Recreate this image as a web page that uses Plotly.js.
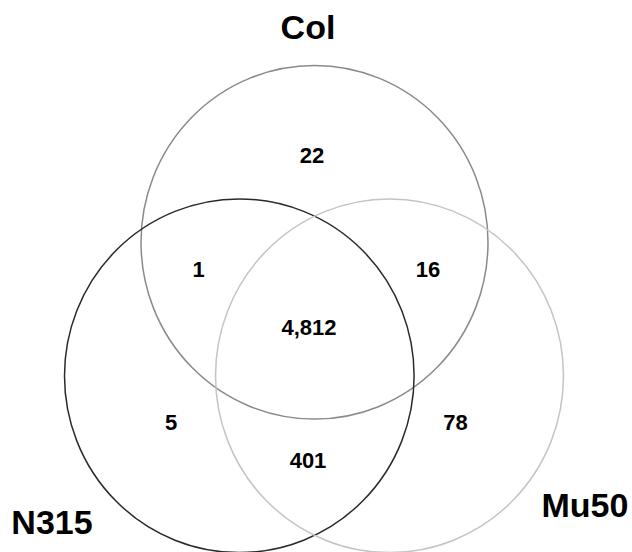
<!DOCTYPE html>
<html>
<head>
<meta charset="utf-8">
<script src="https://cdn.plot.ly/plotly-3.0.1.min.js"></script>
<style>html,body{margin:0;padding:0;background:#fff;}#chart{width:632px;height:552px;}</style>
</head>
<body>
<div id="chart"></div>
<script>
// Data
const setNames = ["Col", "N315", "Mu50"];
const regionNames = ["Col only", "Col∩N315", "Col∩Mu50", "Col∩N315∩Mu50", "N315 only", "Mu50 only", "N315∩Mu50"];
const regionCounts = [22, 1, 16, 4812, 5, 78, 401];

// Layout (pixel-space geometry)
const circleGeom = {
  "Col":  {cx: 314.5, cy: 242.3, rx: 173.5, ry: 176.8, color: "#8a8a8a"},
  "N315": {cx: 239.3, cy: 375.8, rx: 174.8, ry: 176.8, color: "#2a2a2a"},
  "Mu50": {cx: 389.5, cy: 375.8, rx: 174.0, ry: 176.8, color: "#c4c4c4"}
};
const regionPos = [[312,157],[198.5,271],[428,271],[309,329],[171,424],[455.5,424],[308,462]];
const labelPos = {"Col": [308,30], "N315": [52,525], "Mu50": [585,508]};

const fmt = n => n.toLocaleString("en-US");

const countTrace = {
  type: "scatter", mode: "text",
  x: regionPos.map(p => p[0]), y: regionPos.map(p => p[1]),
  text: regionCounts.map(fmt),
  hovertext: regionNames,
  textposition: "middle center",
  textfont: {family: "Liberation Sans, Arial, sans-serif", size: 22, color: "#000", weight: "bold"},
  showlegend: false
};
const labelTrace = {
  type: "scatter", mode: "text",
  x: setNames.map(s => labelPos[s][0]), y: setNames.map(s => labelPos[s][1]),
  text: setNames,
  textposition: "middle center",
  textfont: {family: "Liberation Sans, Arial, sans-serif", size: 34, color: "#000", weight: "bold"},
  showlegend: false
};

const shapes = setNames.map(s => {
  const g = circleGeom[s];
  return {type: "circle", xref: "x", yref: "y",
    x0: g.cx - g.rx, x1: g.cx + g.rx, y0: g.cy - g.ry, y1: g.cy + g.ry,
    line: {color: g.color, width: 1.5}, fillcolor: "rgba(0,0,0,0)", layer: "below"};
});

const layout = {
  width: 632, height: 552,
  margin: {l: 0, r: 0, t: 0, b: 0},
  paper_bgcolor: "#fff", plot_bgcolor: "#fff",
  xaxis: {range: [0, 632], visible: false, fixedrange: true},
  yaxis: {range: [552, 0], visible: false, fixedrange: true},
  shapes: shapes,
  showlegend: false
};

Plotly.newPlot("chart", [countTrace, labelTrace], layout, {displayModeBar: false, staticPlot: true});
</script>
</body>
</html>
